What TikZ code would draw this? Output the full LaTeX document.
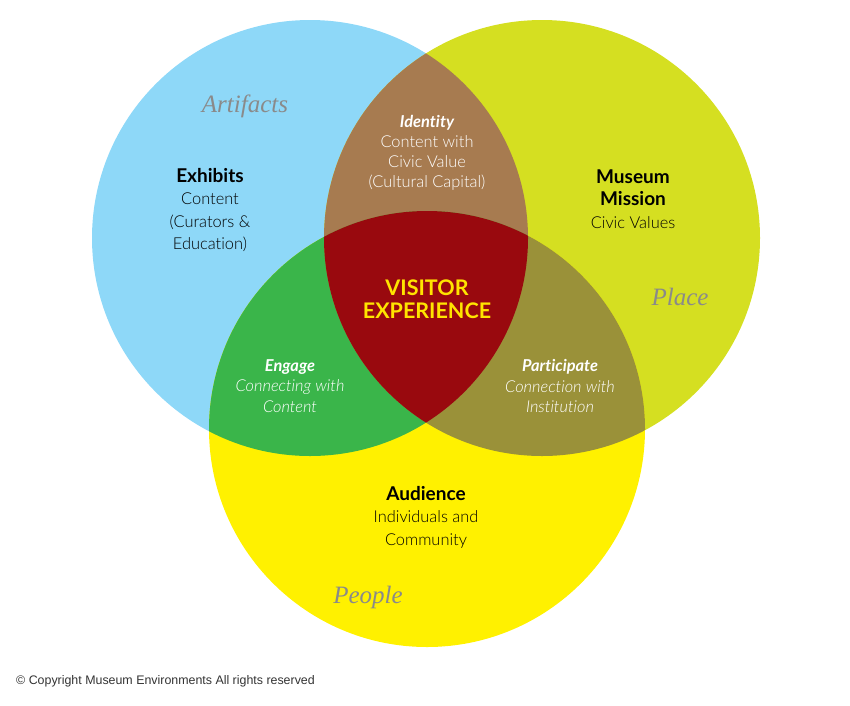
\documentclass[tikz,border=0pt]{standalone}
\usepackage{fontspec}
\setmainfont[Ligatures=NoCommon, UprightFont=* Light, ItalicFont=* Light Italic, BoldFont=* Bold, BoldItalicFont=* Bold Italic]{Lato}
\newfontfamily\serifit{Liberation Serif}
\newfontfamily\copyfont{Liberation Sans}
\definecolor{cblue}{HTML}{8ED8F8}
\definecolor{clime}{HTML}{D5DF21}
\definecolor{cyel}{HTML}{FFF100}
\definecolor{cbrown}{HTML}{A77B50}
\definecolor{cgreen}{HTML}{3AB54A}
\definecolor{colive}{HTML}{9A9139}
\definecolor{cred}{HTML}{99090E}
\definecolor{cvis}{HTML}{FFE400}
\definecolor{cgray}{HTML}{8A8A8A}
\newcommand{\hd}[1]{{\bfseries\fontsize{19}{22.5}\selectfont #1}}
\tikzset{
  body/.style={align=center, inner sep=0pt, font=\fontsize{16.4}{22.5}\selectfont},
  darktext/.style={body, text=black},
  whitetext/.style={body, text=white},
  placelabel/.style={inner sep=0pt, text=cgray, font=\serifit\itshape\fontsize{25}{28}\selectfont},
}
\begin{document}
\begin{tikzpicture}[x=1pt,y=-1pt]
\useasboundingbox (0,0) rectangle (850,705);
\def\circA{(310,238) circle (218)}
\def\circB{(542,238) circle (218)}
\def\circC{(427,429) circle (218)}
\fill[cblue] \circA;
\fill[clime] \circB;
\fill[cyel] \circC;
\begin{scope}\clip \circA; \fill[cbrown] \circB; \end{scope}
\begin{scope}\clip \circA; \fill[cgreen] \circC; \end{scope}
\begin{scope}\clip \circB; \fill[colive] \circC; \end{scope}
\begin{scope}\clip \circA; \clip \circB; \fill[cred] \circC; \end{scope}

\node[placelabel] (artifacts) at (245,106) {Artifacts};
\node[placelabel] (place) at (680,297) {Place};
\node[placelabel] (people) at (368,597) {People};

\node[darktext] (exhibits) at (210,210) {\hd{Exhibits}\\Content\\(Curators \&\\Education)};
\node[whitetext, font=\fontsize{16.4}{20}\selectfont] (identity) at (427,153) {{\bfseries\itshape Identity}\\Content with\\Civic Value\\(Cultural Capital)};
\node[darktext] (mission) at (633,199) {\hd{Museum}\\\hd{Mission}\\Civic Values};
\node[align=center, inner sep=0pt, text=cvis, font=\bfseries\fontsize{21.5}{22.5}\selectfont] (visitor) at (427,299) {VISITOR\\EXPERIENCE};
\node[whitetext, font=\itshape\fontsize{16.4}{20.5}\selectfont] (engage) at (290,386) {{\bfseries Engage}\\Connecting with\\Content};
\node[whitetext, font=\itshape\fontsize{16.4}{20.5}\selectfont] (participate) at (560,386) {{\bfseries Participate}\\Connection with\\Institution};
\node[darktext] (audience) at (426,517) {\hd{Audience}\\Individuals and\\Community};
\node[anchor=west, inner sep=0pt, text=black!80, font=\copyfont\fontsize{12.4}{14}\selectfont] (copy) at (16,681) {© Copyright Museum Environments All rights reserved};
\end{tikzpicture}
\end{document}
